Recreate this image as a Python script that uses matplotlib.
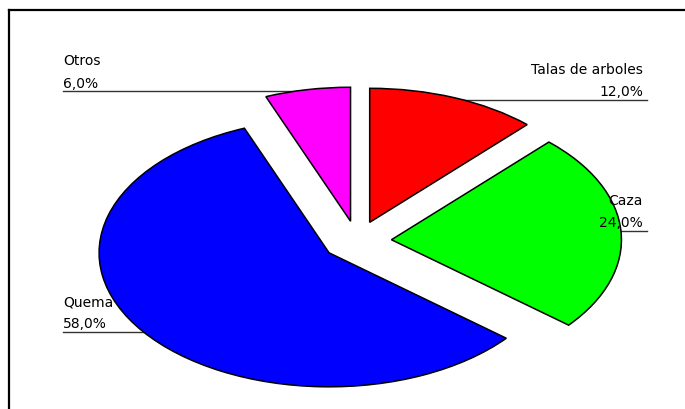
import matplotlib
matplotlib.use("Agg")
import matplotlib.pyplot as plt
from matplotlib.lines import Line2D

# data
categories = ["Talas de arboles", "Caza", "Quema", "Otros"]
shares = [12.0, 24.0, 58.0, 6.0]
colors = ["#ff0000", "#00ff00", "#0000ff", "#ff00ff"]

W, H = 685, 409


def fx(x):
    return x / W


def fy(y):
    return 1 - y / H


fig = plt.figure(figsize=(W / 100, H / 100), dpi=100)
ax = fig.add_axes([0, 0, 1, 1])

ax.pie(
    shares,
    colors=colors,
    startangle=90,
    counterclock=False,
    explode=[0.15] * len(shares),
    wedgeprops=dict(edgecolor="black", linewidth=1.1),
)
ax.set_aspect("auto")

# pie centre at (357, 241) px, radius 230 px wide and 134 px tall
cx, cy, rx, ry = 357, 241, 230, 134
ax.set_xlim(-cx / rx, (W - cx) / rx)
ax.set_ylim(-(H - cy) / ry, cy / ry)
ax.axis("off")

# outer frame (clipped at right and bottom)
fig.add_artist(Line2D([fx(9), fx(W)], [fy(10), fy(10)], color="black", lw=1.6))
fig.add_artist(Line2D([fx(9), fx(9)], [fy(10), fy(H)], color="black", lw=1.6))

# label layout: (name baseline, pct baseline, x, align, line y, line x0, line x1)
layout = {
    "Talas de arboles": (74, 96, 643, "right", 100, 440, 647),
    "Caza": (205, 227, 643, "right", 231, 600, 647),
    "Quema": (306, 328, 63, "left", 332, 63, 150),
    "Otros": (65, 88, 63, "left", 91, 63, 330),
}

for name, val in zip(categories, shares):
    yn, yp, x, ha, ly, lx0, lx1 = layout[name]
    fig.add_artist(Line2D([fx(lx0), fx(lx1)], [fy(ly), fy(ly)],
                          color="#333333", lw=1.0, zorder=0))
    pct = f"{val:.1f}%".replace(".", ",")
    fig.text(fx(x), fy(yn), name, ha=ha, va="baseline",
             fontsize=10, family="DejaVu Sans", zorder=5)
    fig.text(fx(x), fy(yp), pct, ha=ha, va="baseline",
             fontsize=10, family="DejaVu Sans", zorder=5)

fig.savefig("out.png", dpi=100)
